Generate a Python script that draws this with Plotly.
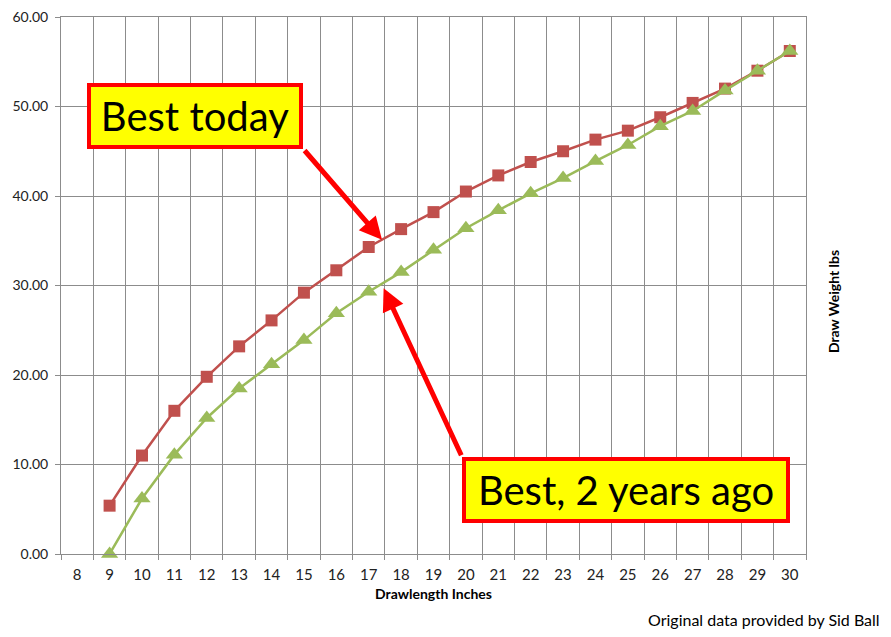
import plotly.graph_objects as go

# drawlength in inches and draw weight in lbs
drawlength = list(range(9, 31))
best_today = [5.4, 11.0, 16.0, 19.8, 23.2, 26.1, 29.2, 31.7, 34.3, 36.3, 38.2,
              40.5, 42.3, 43.8, 45.0, 46.3, 47.3, 48.8, 50.4, 52.0, 54.0, 56.2]
best_2y_ago = [0.0, 6.2, 11.1, 15.2, 18.5, 21.2, 23.9, 26.9, 29.3, 31.5, 34.0,
               36.4, 38.4, 40.3, 42.0, 43.9, 45.7, 47.8, 49.5, 51.8, 54.0, 56.2]
x_ticks = list(range(8, 31))
y_ticks = [0, 10, 20, 30, 40, 50, 60]

RED = '#C0504D'
GREEN = '#9BBB59'
GRID = '#8C8C8C'
FONT = 'Lato'

fig = go.Figure()
fig.add_trace(go.Scatter(
    x=drawlength, y=best_today, mode='lines+markers', name='Best today',
    line=dict(color=RED, width=2.5),
    marker=dict(symbol='square', size=12, color=RED),
    cliponaxis=False
))
fig.add_trace(go.Scatter(
    x=drawlength, y=best_2y_ago, mode='lines+markers', name='Best, 2 years ago',
    line=dict(color=GREEN, width=2.5),
    marker=dict(symbol='triangle-up', size=15, color=GREEN),
    cliponaxis=False
))

# callout boxes
box = dict(font=dict(family=FONT, size=40, color='black'), bgcolor='#FFFF00',
           bordercolor='#FF0000', borderwidth=4, borderpad=4, showarrow=False,
           xref='x', yref='y', height=50)
fig.add_annotation(text='Best today', x=11.64, y=48.94, width=200, **box)
fig.add_annotation(text='Best, 2 years ago', x=24.94, y=7.18, width=312, **box)

# arrows from box corners to the curves
arrow = dict(text='', showarrow=True, arrowhead=2, arrowsize=0.9, arrowwidth=5,
             arrowcolor='#FF0000', xref='x', yref='y', axref='x', ayref='y')
fig.add_annotation(x=17.41, y=35.1, ax=14.98, ay=45.25, **arrow)
fig.add_annotation(x=17.46, y=29.7, ax=19.88, ay=10.87, **arrow)

# right-side axis title and footer
fig.add_annotation(text='<b>Draw Weight lbs</b>', textangle=-90, xref='paper', yref='paper',
                   x=1.051, y=0.47, showarrow=False, font=dict(family=FONT, size=14, color='black'))
fig.add_annotation(text='Original data provided by Sid Ball', xref='paper', yref='paper',
                   x=1.102, y=-0.143, xanchor='right', yanchor='bottom', showarrow=False,
                   font=dict(family=FONT, size=16, color='black'))

# page body has an 8px margin, so the figure is 16px smaller than the window
fig.update_layout(
    width=875, height=621,
    margin=dict(l=53, r=77, t=9, b=75),
    paper_bgcolor='white', plot_bgcolor='white',
    showlegend=False,
    font=dict(family=FONT, size=14, color='#222222'),
    xaxis=dict(
        range=[7.5, 30.5], tickmode='array', tickvals=x_ticks, automargin=False,
        showgrid=False, ticks='', zeroline=False, ticklabelstandoff=7,
        ticklabeloverflow='allow', tickfont=dict(size=15),
        showline=True, linecolor=GRID, linewidth=1, mirror=True,
        minor=dict(tick0=7.5, dtick=1, showgrid=True, gridcolor=GRID, gridwidth=1,
                   ticks='outside', ticklen=5, tickcolor=GRID),
        title=dict(text='<b>Drawlength Inches</b>', font=dict(family=FONT, size=14, color='black'),
                   standoff=7)
    ),
    yaxis=dict(
        range=[0, 60], tickmode='array', tickvals=y_ticks, tickformat='.2f', automargin=False,
        showgrid=True, gridcolor=GRID, gridwidth=1, zeroline=False,
        ticks='outside', ticklen=5, tickcolor=GRID, ticklabelstandoff=4,
        ticklabeloverflow='allow',
        showline=True, linecolor=GRID, linewidth=1, mirror=True
    )
)

fig.write_html('out.html')
